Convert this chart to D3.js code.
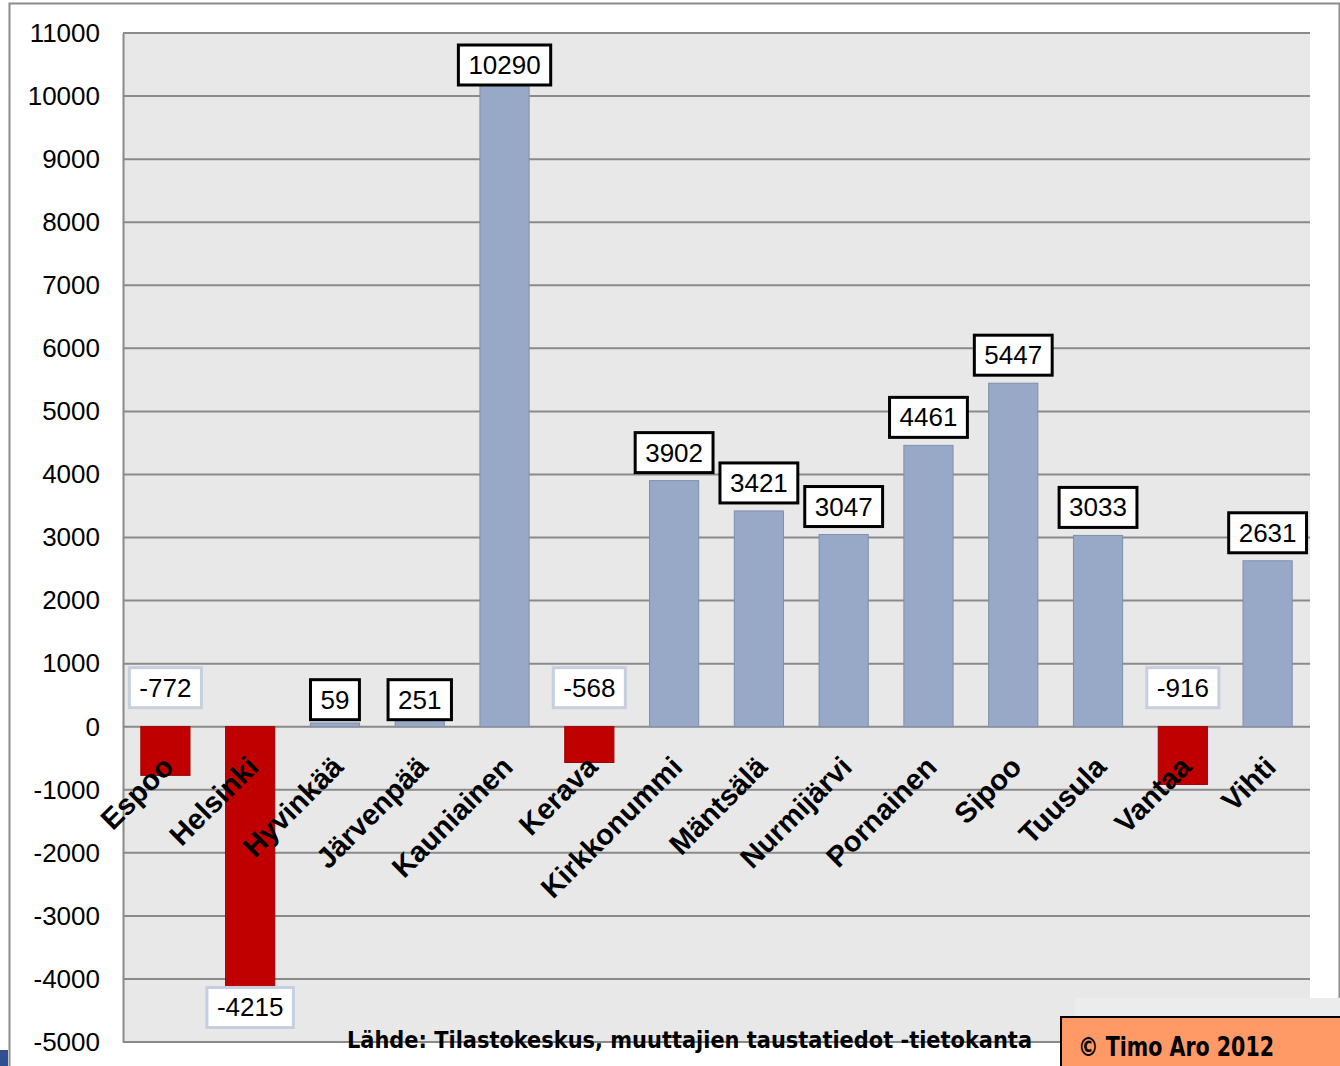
<!DOCTYPE html>
<html>
<head>
<meta charset="utf-8">
<script src="https://cdn.jsdelivr.net/npm/d3@7"></script>
<style>
  body { margin: 0; background: #fff; }
  svg { display: block; font-family: "Liberation Sans", Arial, sans-serif; }
</style>
</head>
<body>
<div id="chart"></div>
<script>
// Data
var kunnat = ["Espoo", "Helsinki", "Hyvinkää", "Järvenpää", "Kauniainen", "Kerava",
  "Kirkkonummi", "Mäntsälä", "Nurmijärvi", "Pornainen", "Sipoo", "Tuusula", "Vantaa", "Vihti"];
var arvot = [-772, -4215, 59, 251, 10290, -568, 3902, 3421, 3047, 4461, 5447, 3033, -916, 2631];
var yTicks = [11000, 10000, 9000, 8000, 7000, 6000, 5000, 4000, 3000, 2000, 1000, 0,
  -1000, -2000, -3000, -4000, -5000];
var lahde = "Lähde: Tilastokeskus, muuttajien taustatiedot -tietokanta";
var tekija = "© Timo Aro 2012";

var W = 1340, H = 1066;
var margin = { top: 33, right: 30, bottom: 24, left: 123 },
    width = W - margin.left - margin.right,
    height = H - margin.top - margin.bottom;

var svg = d3.select("#chart")
    .append("svg")
    .attr("width", W)
    .attr("height", H);

// outer frame
svg.append("path")
    .attr("d", "M9.5," + H + "V3.5H1339.5V998")
    .attr("fill", "none")
    .attr("stroke", "#8c8c8c")
    .attr("stroke-width", 2);

svg.append("rect")
    .attr("x", 0).attr("y", 1050).attr("width", 8).attr("height", 16)
    .attr("fill", "#2f4f8f");

var g = svg.append("g")
    .attr("transform", "translate(" + margin.left + "," + margin.top + ")");

var x = d3.scaleBand()
    .domain(kunnat)
    .range([0, width])
    .paddingInner(0.42)
    .paddingOuter(0.21);

var y = d3.scaleLinear()
    .domain([-5000, 11000])
    .range([height, 0]);

// plot background
g.append("rect")
    .attr("width", width)
    .attr("height", height)
    .attr("fill", "#e8e8e8");

// light strip behind the copyright box
svg.append("rect")
    .attr("x", 1075).attr("y", 998).attr("width", 265).attr("height", 20)
    .attr("fill", "#ececec");

// gridlines
g.selectAll(".grid")
    .data(yTicks)
    .enter()
    .append("line")
    .attr("x1", 0)
    .attr("x2", width)
    .attr("y1", function (d) { return y(d); })
    .attr("y2", function (d) { return y(d); })
    .attr("stroke", "#8a8a8a")
    .attr("stroke-width", 2);

// y axis (plain hyphen for negatives, like the original)
var yAxis = g.append("g")
    .call(d3.axisLeft(y).tickValues(yTicks).tickSize(0).tickPadding(23)
        .tickFormat(function (d) { return String(d); }));
yAxis.select(".domain")
    .attr("stroke", "#8a8a8a")
    .attr("stroke-width", 2);
yAxis.selectAll("text")
    .attr("font-size", 26)
    .attr("font-family", "Liberation Sans, Arial, sans-serif")
    .attr("fill", "#000");

// bars
g.selectAll(".bar")
    .data(arvot)
    .enter()
    .append("rect")
    .attr("x", function (d, i) { return x(kunnat[i]); })
    .attr("y", function (d) { return y(Math.max(0, d)); })
    .attr("width", x.bandwidth())
    .attr("height", function (d) { return Math.abs(y(d) - y(0)); })
    .attr("fill", function (d) { return d < 0 ? "#c00000" : "#98a9c7"; })
    .attr("stroke", function (d) { return d < 0 ? "#a00000" : "#7f8fae"; })
    .attr("stroke-width", 1);

// category labels
g.selectAll(".cat")
    .data(kunnat)
    .enter()
    .append("text")
    .attr("transform", function (d) {
        return "translate(" + (x(d) + x.bandwidth() / 2 + 10) + "," + (y(0) + 42) + ") rotate(-45)";
    })
    .attr("text-anchor", "end")
    .attr("font-size", 29)
    .attr("font-weight", "bold")
    .attr("fill", "#000")
    .text(function (d) { return d; });

// data labels
var lbl = g.selectAll(".lbl")
    .data(arvot)
    .enter()
    .append("g");

lbl.each(function (d, i) {
    var el = d3.select(this);
    var cx = x(kunnat[i]) + x.bandwidth() / 2;
    var t = el.append("text")
        .attr("font-size", 26)
        .attr("text-anchor", "middle")
        .attr("fill", "#000")
        .text(d);
    var tw = t.node().getComputedTextLength();
    var bw = tw + 20, bh = 40;
    var bottom;
    if (d >= 500) {
        bottom = Math.max(y(d) - 8, 12 + bh);
    } else if (d >= 0) {
        bottom = y(0) - 7;
    } else if (d > -2000) {
        bottom = y(0) - 19;
    } else {
        bottom = y(d) - 5 + bh;
    }
    el.insert("rect", "text")
        .attr("x", cx - bw / 2)
        .attr("y", bottom - bh)
        .attr("width", bw)
        .attr("height", bh)
        .attr("fill", "#fff")
        .attr("stroke", d >= 0 ? "#000" : "#c5cfe0")
        .attr("stroke-width", 3);
    t.attr("x", cx).attr("y", bottom - bh / 2 + 9);
});

// source text
svg.append("text")
    .attr("x", 347)
    .attr("y", 1048)
    .attr("font-family", "DejaVu Sans Condensed, DejaVu Sans, sans-serif")
    .attr("font-weight", "bold")
    .attr("font-size", 23)
    .attr("textLength", 685)
    .attr("lengthAdjust", "spacingAndGlyphs")
    .attr("fill", "#000")
    .text(lahde);

// copyright box
svg.append("rect")
    .attr("x", 1061)
    .attr("y", 1017)
    .attr("width", 285)
    .attr("height", 55)
    .attr("fill", "#ff9966")
    .attr("stroke", "#000")
    .attr("stroke-width", 2);

svg.append("text")
    .attr("x", 1078)
    .attr("y", 1056)
    .attr("font-family", "DejaVu Sans Condensed, DejaVu Sans, sans-serif")
    .attr("font-weight", "bold")
    .attr("font-size", 27)
    .attr("textLength", 196)
    .attr("lengthAdjust", "spacingAndGlyphs")
    .attr("fill", "#000")
    .text(tekija);
</script>
</body>
</html>
